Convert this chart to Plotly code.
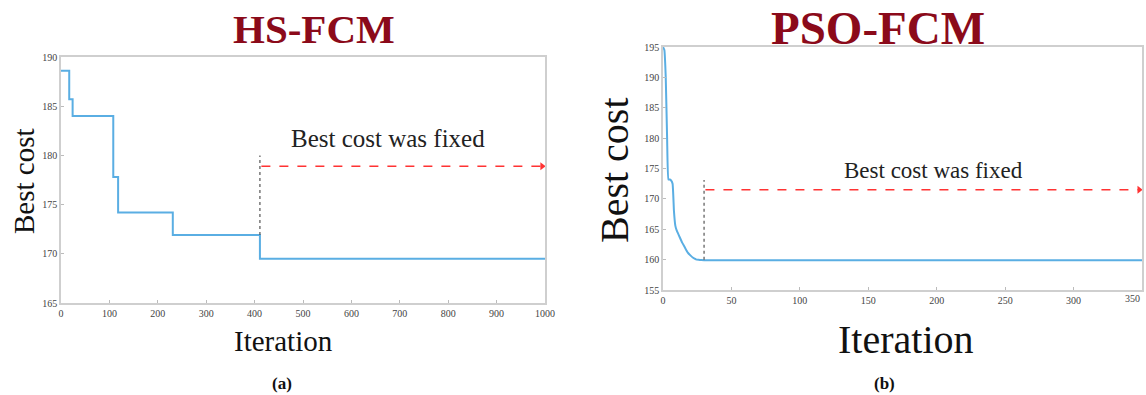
import plotly.graph_objects as go

W, H = 1146, 395

# ---- data ----
hs_iter = [0, 17, 24, 108, 118, 231, 411, 1000]
hs_cost = [188.6, 185.7, 184.0, 177.8, 174.2, 171.9, 169.5, 169.5]
hs_fixed_iter = 411
hs_fixed_top = 180.0
hs_arrow_y = 178.9

pso_iter = [0, 1, 2, 3, 4, 5, 6, 7, 8, 9, 10, 12, 14, 16, 18, 20, 22, 24, 26, 28, 30, 40, 350]
pso_cost = [195.0, 194.5, 190.0, 180.0, 173.2, 173.2, 173.0, 172.5, 168.0, 165.6, 164.8,
            163.8, 162.8, 162.0, 161.2, 160.7, 160.3, 160.05, 159.97, 159.92, 159.9, 159.9, 159.9]
pso_fixed_iter = 30
pso_fixed_top = 173.1
pso_arrow_y = 171.5

hs_xticks = [0, 100, 200, 300, 400, 500, 600, 700, 800, 900, 1000]
hs_yticks = [165, 170, 175, 180, 185, 190]
pso_xticks = [0, 50, 100, 150, 200, 250, 300, 350]
pso_yticks = [155, 160, 165, 170, 175, 180, 185, 190, 195]

LINE = "#5aaee3"
RED = "#ff3333"
TITLE_C = "#8b0a1a"
SERIF = "Liberation Serif"
TICKFONT = dict(family=SERIF, size=10, color="#444444")

fig = go.Figure()

# HS-FCM
fig.add_trace(go.Scatter(x=hs_iter, y=hs_cost, mode="lines", line=dict(color=LINE, width=2, shape="hv"),
                         xaxis="x", yaxis="y", showlegend=False))
fig.add_trace(go.Scatter(x=[hs_fixed_iter, hs_fixed_iter], y=[hs_cost[5], hs_fixed_top], mode="lines",
                         line=dict(color="#555555", width=1.2, dash="dot"), xaxis="x", yaxis="y", showlegend=False))
fig.add_trace(go.Scatter(x=[hs_fixed_iter + 3, hs_iter[-1] - 6], y=[hs_arrow_y, hs_arrow_y], mode="lines",
                         line=dict(color=RED, width=1.5, dash="dash"), xaxis="x", yaxis="y", showlegend=False))
fig.add_trace(go.Scatter(x=[hs_iter[-1] - 6], y=[hs_arrow_y], mode="markers",
                         marker=dict(symbol="triangle-right", size=7, color=RED), xaxis="x", yaxis="y", showlegend=False))

# PSO-FCM
fig.add_trace(go.Scatter(x=pso_iter, y=pso_cost, mode="lines", line=dict(color=LINE, width=2, shape="spline", smoothing=0.4),
                         xaxis="x2", yaxis="y2", showlegend=False))
fig.add_trace(go.Scatter(x=[pso_fixed_iter, pso_fixed_iter], y=[160.0, pso_fixed_top], mode="lines",
                         line=dict(color="#555555", width=1.2, dash="dot"), xaxis="x2", yaxis="y2", showlegend=False))
fig.add_trace(go.Scatter(x=[pso_fixed_iter + 1, pso_iter[-1] - 2], y=[pso_arrow_y, pso_arrow_y], mode="lines",
                         line=dict(color=RED, width=1.5, dash="dash"), xaxis="x2", yaxis="y2", showlegend=False))
fig.add_trace(go.Scatter(x=[pso_iter[-1] - 2], y=[pso_arrow_y], mode="markers",
                         marker=dict(symbol="triangle-right", size=7, color=RED), xaxis="x2", yaxis="y2", showlegend=False))

axis_common = dict(showgrid=False, zeroline=False, showline=True, linecolor="#cfcfcf", linewidth=1.5,
                   mirror=True, ticks="inside", ticklen=3, tickcolor="#bbbbbb", automargin=False,
                   tickfont=TICKFONT)

fig.update_layout(
    width=W, height=H, margin=dict(l=0, r=0, t=0, b=0, autoexpand=False),
    paper_bgcolor="white", plot_bgcolor="white",
    xaxis=dict(domain=[61 / W, 545 / W], range=[0, 1000], tickvals=hs_xticks, anchor="y", **axis_common),
    yaxis=dict(domain=[(H - 303) / H, (H - 57) / H], range=[165, 190], tickvals=hs_yticks, anchor="x", **axis_common),
    xaxis2=dict(domain=[663 / W, 1142 / W], range=[0, 350], tickvals=pso_xticks, anchor="y2", **axis_common),
    yaxis2=dict(domain=[(H - 290) / H, (H - 47) / H], range=[155, 195], tickvals=pso_yticks, anchor="x2", **axis_common),
)

ann = [
    dict(text="<b>HS-FCM</b>", x=314 / W, y=1 - 29 / H, font=dict(family=SERIF, size=41, color=TITLE_C)),
    dict(text="<b>PSO-FCM</b>", x=878 / W, y=1 - 28 / H, font=dict(family=SERIF, size=47, color=TITLE_C)),
    dict(text="Best cost", x=24 / W, y=1 - 181 / H, textangle=-90, font=dict(family=SERIF, size=29, color="#111111")),
    dict(text="Best cost", x=614 / W, y=1 - 170 / H, textangle=-90, font=dict(family=SERIF, size=40, color="#111111")),
    dict(text="Iteration", x=283 / W, y=1 - 341 / H, font=dict(family=SERIF, size=29, color="#111111")),
    dict(text="Iteration", x=906 / W, y=1 - 339 / H, font=dict(family=SERIF, size=40, color="#111111")),
    dict(text="<b>(a)</b>", x=282 / W, y=1 - 383 / H, font=dict(family=SERIF, size=17, color="#111111")),
    dict(text="<b>(b)</b>", x=884 / W, y=1 - 383 / H, font=dict(family=SERIF, size=17, color="#111111")),
]
for a in ann:
    a.update(xref="paper", yref="paper", showarrow=False, xanchor="center", yanchor="middle")
    fig.add_annotation(**a)

# last PSO tick label sits at the page edge; anchor it so it stays inside
fig.add_annotation(text=str(pso_xticks[-1]), x=pso_xticks[-1], xref="x2", y=1 - 298 / H, yref="paper",
                   showarrow=False, xanchor="right", yanchor="middle", font=TICKFONT)

fig.add_annotation(text="Best cost was fixed", x=676, y=181.7, xref="x", yref="y", showarrow=False,
                   font=dict(family=SERIF, size=25, color="#222222"))
fig.add_annotation(text="Best cost was fixed", x=198, y=174.6, xref="x2", yref="y2", showarrow=False,
                   font=dict(family=SERIF, size=23, color="#222222"))

fig.write_html("out.html", config={"displayModeBar": False},
               post_script="document.body.style.margin='0';document.body.style.overflow='hidden';")
